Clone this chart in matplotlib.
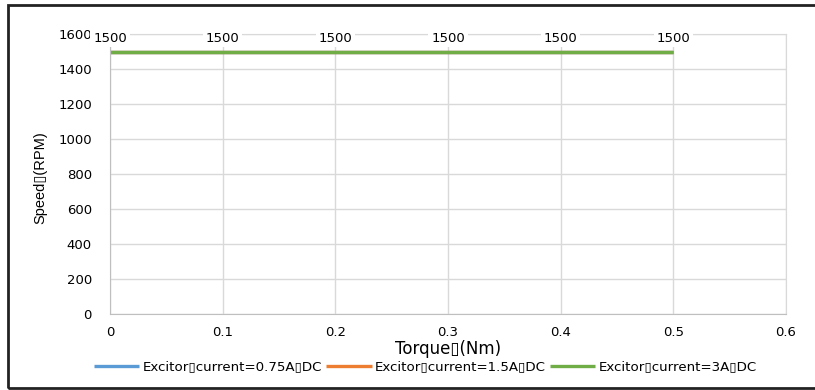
import matplotlib
matplotlib.use("Agg")
import matplotlib.pyplot as plt
from matplotlib.patches import Rectangle

torque = [0, 0.1, 0.2, 0.3, 0.4, 0.5]
speed_075 = [1500, 1500, 1500, 1500, 1500, 1500]
speed_15 = [1500, 1500, 1500, 1500, 1500, 1500]
speed_3 = [1500, 1500, 1500, 1500, 1500, 1500]
series_names = ["Excitor\u25afcurrent=0.75A\u25afDC",
                "Excitor\u25afcurrent=1.5A\u25afDC",
                "Excitor\u25afcurrent=3A\u25afDC"]
colors = ["#5b9bd5", "#ed7d31", "#70ad47"]

plt.rcParams['font.family'] = ['DejaVu Sans']

fig = plt.figure(figsize=(8.15, 3.9), dpi=100)
ax = fig.add_axes([110 / 815, 1 - 314 / 390, 676 / 815, 280 / 390])

for ys, c, name in zip([speed_075, speed_15, speed_3], colors, series_names):
    ax.plot(torque, ys, color=c, lw=2.4, label=name, solid_capstyle='butt')

for x, y in zip(torque, speed_3):
    ax.annotate(f"{y:g}", (x, y), xytext=(0, 9.5), textcoords="offset points",
                ha="center", va="center", fontsize=9.5,
                bbox=dict(boxstyle="square,pad=0.2", fc="white", ec="none"))

ax.set_xlim(0, 0.6)
ax.set_ylim(0, 1600)
ax.set_xticks([0, 0.1, 0.2, 0.3, 0.4, 0.5, 0.6])
ax.set_xticklabels(["0", "0.1", "0.2", "0.3", "0.4", "0.5", "0.6"])
ax.set_yticks(range(0, 1601, 200))
ax.grid(True, color="#d9d9d9", lw=1)
ax.set_axisbelow(True)
for s in ["top", "right"]:
    ax.spines[s].set_color("#d9d9d9")
for s in ["left", "bottom"]:
    ax.spines[s].set_color("#bfbfbf")
ax.tick_params(length=0, labelsize=9.5)
ax.tick_params(axis="x", pad=9)
ax.tick_params(axis="y", pad=13)

ax.set_xlabel("Torque\u25af(Nm)", fontsize=12, labelpad=0)
fig.text(0.050, 1 - 178 / 390, "Speed\u25af(RPM)", rotation=90, ha="center",
         va="center", fontsize=10.5, family=["Liberation Sans", "DejaVu Sans"])

fig.legend(loc="center", bbox_to_anchor=(0.522, 1 - 367 / 390), ncol=3,
           frameon=False, fontsize=9.6, handlelength=3.4, handletextpad=0.25,
           columnspacing=0.3)

fig.patches.append(Rectangle((8 / 815, 2 / 390), 1.1, 383 / 390,
                             transform=fig.transFigure, fill=False,
                             ec="#222222", lw=2, clip_on=False))

fig.savefig("out.png", dpi=100)
